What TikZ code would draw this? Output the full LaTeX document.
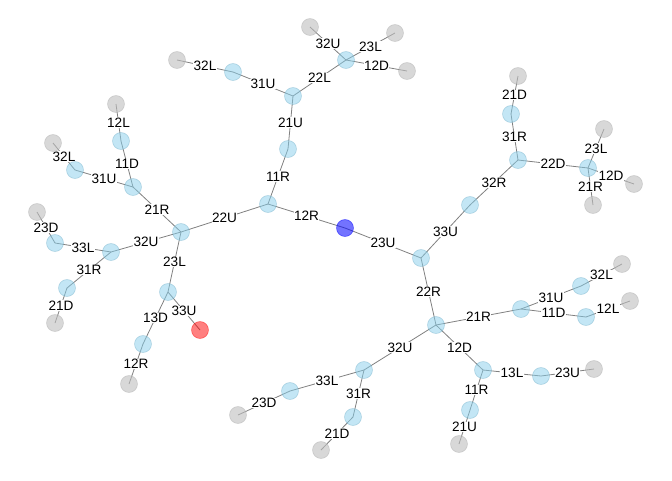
\documentclass[tikz,border=0pt]{standalone}
\usepackage{fontspec}
\setmainfont{Liberation Sans}
\pgfdeclarelayer{background}
\pgfsetlayers{background,main}

\definecolor{hubblue}{RGB}{135,206,235}
\definecolor{leafgray}{RGB}{190,190,190}
\definecolor{edgegray}{RGB}{128,128,128}

\tikzset{
    vtx/.style={circle, minimum size=12.75pt, inner sep=0pt, line width=0.5pt},
    hub/.style={vtx, fill=hubblue, draw=hubblue!85!black, fill opacity=0.5, draw opacity=0.45},
    leaf/.style={vtx, fill=leafgray, draw=leafgray!90!black, fill opacity=0.6, draw opacity=0.45},
    start/.style={vtx, fill=blue, draw=blue, fill opacity=0.55, draw opacity=0.5},
    goal/.style={vtx, fill=red, draw=red, fill opacity=0.5, draw opacity=0.45},
    link/.style={draw=edgegray, line width=0.6pt},
    lab/.style={midway, fill=white, inner sep=0.3pt, font=\fontsize{10.2}{12}\selectfont}
}

\begin{document}
\begin{tikzpicture}[x=0.75pt, y=-0.75pt]
    \useasboundingbox (0,0) rectangle (672,480);

        % vertices
        \node[start] (s) at (345,228) {};
        \node[goal] (g) at (200,330) {};

        \node[hub] (a) at (268,204) {};
        \node[hub] (b) at (288,149) {};
        \node[hub] (c) at (293,96) {};
        \node[hub] (d) at (233,72) {};
        \node[leaf] (d1) at (177,60) {};
        \node[hub] (f) at (346,60) {};
        \node[leaf] (f1) at (310,27) {};
        \node[leaf] (f2) at (395,33) {};
        \node[leaf] (f3) at (407,71) {};
        \node[hub] (h) at (181,232) {};
        \node[hub] (i) at (133,187) {};
        \node[hub] (j) at (121,141) {};
        \node[leaf] (j1) at (116,104) {};
        \node[hub] (k) at (75,170) {};
        \node[leaf] (k1) at (53,143) {};
        \node[hub] (l) at (111,252) {};
        \node[hub] (m) at (55,243) {};
        \node[leaf] (m1) at (37,212) {};
        \node[hub] (o) at (67,288) {};
        \node[leaf] (o1) at (55,323) {};
        \node[hub] (p) at (168,292) {};
        \node[hub] (q) at (143,344) {};
        \node[leaf] (q1) at (129,384) {};

        \node[hub] (r) at (421,258) {};
        \node[hub] (t) at (470,205) {};
        \node[hub] (v) at (518,160) {};
        \node[hub] (w) at (511,114) {};
        \node[leaf] (w1) at (518,76) {};
        \node[hub] (x) at (588,168) {};
        \node[leaf] (x1) at (604,129) {};
        \node[leaf] (x2) at (634,184) {};
        \node[leaf] (x3) at (593,205) {};
        \node[hub] (y) at (436,325) {};
        \node[hub] (z) at (521,309) {};
        \node[hub] (z1) at (581,286) {};
        \node[leaf] (z2) at (622,264) {};
        \node[hub] (z3) at (586,317) {};
        \node[leaf] (z4) at (630,301) {};
        \node[hub] (aa) at (483,370) {};
        \node[hub] (ab) at (541,376) {};
        \node[leaf] (ab1) at (594,369) {};
        \node[hub] (ac) at (470,410) {};
        \node[leaf] (ac1) at (459,444) {};
        \node[hub] (ad) at (364,370) {};
        \node[hub] (ae) at (290,391) {};
        \node[leaf] (ae1) at (238,415) {};
        \node[hub] (af) at (353,417) {};
        \node[leaf] (af1) at (321,450) {};

        % edges
        \begin{pgfonlayer}{background}
        \draw[link] (s.center) -- (a.center) node[lab] {12R};
        \draw[link] (a.center) -- (b.center) node[lab] {11R};
        \draw[link] (b.center) -- (c.center) node[lab] {21U};
        \draw[link] (c.center) -- (d.center) node[lab] {31U};
        \draw[link] (d.center) -- (d1.center) node[lab] {32L};
        \draw[link] (c.center) -- (f.center) node[lab] {22L};
        \draw[link] (f.center) -- (f1.center) node[lab] {32U};
        \draw[link] (f.center) -- (f2.center) node[lab] {23L};
        \draw[link] (f.center) -- (f3.center) node[lab] {12D};
        \draw[link] (a.center) -- (h.center) node[lab] {22U};
        \draw[link] (h.center) -- (i.center) node[lab] {21R};
        \draw[link] (i.center) -- (j.center) node[lab] {11D};
        \draw[link] (j.center) -- (j1.center) node[lab] {12L};
        \draw[link] (i.center) -- (k.center) node[lab] {31U};
        \draw[link] (k.center) -- (k1.center) node[lab] {32L};
        \draw[link] (h.center) -- (l.center) node[lab] {32U};
        \draw[link] (l.center) -- (m.center) node[lab] {33L};
        \draw[link] (m.center) -- (m1.center) node[lab] {23D};
        \draw[link] (l.center) -- (o.center) node[lab] {31R};
        \draw[link] (o.center) -- (o1.center) node[lab] {21D};
        \draw[link] (h.center) -- (p.center) node[lab] {23L};
        \draw[link] (p.center) -- (g.center) node[lab] {33U};
        \draw[link] (p.center) -- (q.center) node[lab] {13D};
        \draw[link] (q.center) -- (q1.center) node[lab] {12R};

        \draw[link] (s.center) -- (r.center) node[lab] {23U};
        \draw[link] (r.center) -- (t.center) node[lab] {33U};
        \draw[link] (t.center) -- (v.center) node[lab] {32R};
        \draw[link] (v.center) -- (w.center) node[lab] {31R};
        \draw[link] (w.center) -- (w1.center) node[lab] {21D};
        \draw[link] (v.center) -- (x.center) node[lab] {22D};
        \draw[link] (x.center) -- (x1.center) node[lab] {23L};
        \draw[link] (x.center) -- (x2.center) node[lab] {12D};
        \draw[link] (x.center) -- (x3.center) node[lab] {21R};
        \draw[link] (r.center) -- (y.center) node[lab] {22R};
        \draw[link] (y.center) -- (z.center) node[lab] {21R};
        \draw[link] (z.center) -- (z1.center) node[lab] {31U};
        \draw[link] (z1.center) -- (z2.center) node[lab] {32L};
        \draw[link] (z.center) -- (z3.center) node[lab] {11D};
        \draw[link] (z3.center) -- (z4.center) node[lab] {12L};
        \draw[link] (y.center) -- (aa.center) node[lab] {12D};
        \draw[link] (aa.center) -- (ab.center) node[lab] {13L};
        \draw[link] (ab.center) -- (ab1.center) node[lab] {23U};
        \draw[link] (aa.center) -- (ac.center) node[lab] {11R};
        \draw[link] (ac.center) -- (ac1.center) node[lab] {21U};
        \draw[link] (y.center) -- (ad.center) node[lab] {32U};
        \draw[link] (ad.center) -- (ae.center) node[lab] {33L};
        \draw[link] (ae.center) -- (ae1.center) node[lab] {23D};
        \draw[link] (ad.center) -- (af.center) node[lab] {31R};
        \draw[link] (af.center) -- (af1.center) node[lab] {21D};
        \end{pgfonlayer}
    \end{tikzpicture}
\end{document}
